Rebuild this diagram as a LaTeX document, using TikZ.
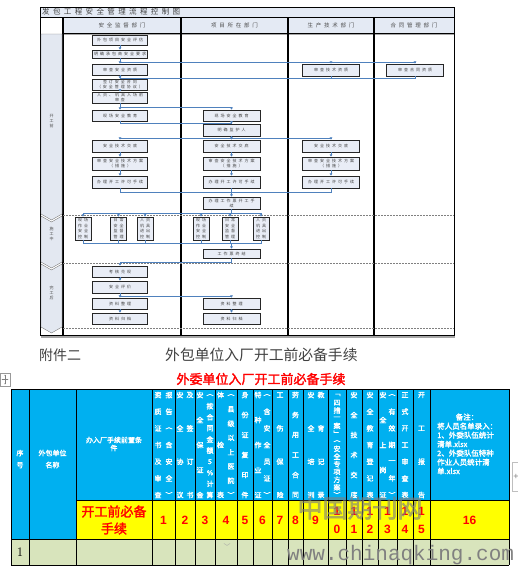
\documentclass[tikz,border=0pt]{standalone}
\usepackage{fontspec}
\usetikzlibrary{arrows.meta, positioning, calc}
\newfontfamily\cjk{Noto Sans CJK SC}[AutoFakeBold=2]
\newfontfamily\cjkspread{Noto Sans CJK SC}[LetterSpace=50]
\newfontfamily\cjktitle{Noto Sans CJK SC}[LetterSpace=45]
\newfontfamily\numfont{Liberation Sans}
\newfontfamily\webfont{Liberation Mono}
\definecolor{flowblue}{HTML}{4F81BD}
\definecolor{boxfill}{HTML}{E9EDF6}
\definecolor{headfill}{HTML}{E4EAF4}
\definecolor{lanefill}{HTML}{E3E8F1}
\definecolor{xlblue}{HTML}{00B0F0}
\definecolor{xlyellow}{HTML}{FFFF00}
\definecolor{xlgreen}{HTML}{D8E4BC}
\definecolor{xlred}{HTML}{FF0000}
\definecolor{inkgray}{HTML}{404040}
% one column of upright header characters, spread over the header cell
\newcommand{\vstackcol}[4]{%
  \foreach \ch [count=\k] in {#4}{%
    \node[htext] (#1-\k) at (#2,{395+(\k-1)*100/(#3-1)}) {\ch};}%
}

\begin{document}
\begin{tikzpicture}[x=1pt, y=-1pt,
    fbox/.style={draw=black!85, line width=0.7pt, fill=boxfill, minimum width=55pt,
      minimum height=10pt, inner sep=0.5pt, align=center, text=black!75,
      font=\cjkspread\fontsize{4}{5}\selectfont},
    fboxw/.style={fbox, minimum width=57pt},
    sbox/.style={fbox, minimum width=16pt, minimum height=23pt,
      font=\cjkspread\fontsize{4}{5.5}\selectfont},
    headtext/.style={font=\cjkspread\fontsize{5.5}{6}\selectfont, text=black!70},
    lanetext/.style={font=\cjk\fontsize{4}{5}\selectfont, align=center, text=black!70},
    arr/.style={-{Triangle[length=2.2pt,width=2.6pt]}, line width=0.9pt, flowblue},
    ln/.style={line width=0.9pt, flowblue},
    sep/.style={gray, line width=1pt, dash pattern=on 1.5pt off 1.5pt},
    tline/.style={black, line width=0.9pt},
    htext/.style={font=\cjk\bfseries\fontsize{7}{8}\selectfont, text=white, inner sep=0pt, align=center},
    numtext/.style={font=\numfont\bfseries\fontsize{12}{12}\selectfont, text=xlred, inner sep=0pt},
  ]
  \useasboundingbox (0,0) rectangle (518,566);
  \clip (0,0) rectangle (518,566);

  % ---------- flow chart frame ----------
  \fill[headfill] (40,7) rectangle (454,17);
  \fill[headfill] (63,17) rectangle (454,33);
  \draw[gray!70, line width=1.5pt] (63,34) -- (454,34);
  \draw[gray!70, line width=1.5pt] (41,337) -- (455,337);
  \draw[line width=0.9pt] (40,7) rectangle (454,335);
  \draw[line width=0.9pt] (40,17) -- (454,17);
  \draw[line width=0.9pt] (63,33) -- (454,33);
  \foreach \x in {63,181,288,374}
    \draw[line width=1.1pt] (\x,17) -- (\x,335);
  \node[anchor=west, inner sep=0, text=black!75, font=\cjktitle\fontsize{7.5}{8}\selectfont] (ftitle) at (42,12) {发包工程安全管理流程控制图};
  \node[headtext] (dep1) at (122,25) {安全监督部门};
  \node[headtext] (dep2) at (234.5,25) {项目所在部门};
  \node[headtext] (dep3) at (331,25) {生产技术部门};
  \node[headtext] (dep4) at (414,25) {合同管理部门};

  % phase lanes
  \filldraw[fill=lanefill, draw=gray] (41,34) -- (62,34) -- (62,214) -- (51.5,220) -- (41,214) -- cycle;
  \filldraw[fill=lanefill, draw=gray] (41,216) -- (51.5,222) -- (62,216) -- (62,262) -- (51.5,268) -- (41,262) -- cycle;
  \filldraw[fill=lanefill, draw=gray] (41,264) -- (51.5,270) -- (62,264) -- (62,327) -- (51.5,333) -- (41,327) -- cycle;
  \node[lanetext] (lane1) at (51.5,121) {开\\工\\前};
  \node[lanetext] (lane2) at (51.5,234) {施\\工\\中};
  \node[lanetext] (lane3) at (51.5,293) {完\\工\\后};
  \draw[sep] (63,215) -- (454,215);
  \draw[sep] (63,263) -- (454,263);
  \draw[sep] (63,328) -- (454,328);

  % ---------- flow chart boxes ----------
  \node[fbox] (assess) at (120,40) {外包项目安全评估};
  \node[fbox, minimum height=8pt] (req) at (120,54) {明确承包商安全要求};
  \node[fbox, minimum height=11pt] (qualS) at (120,69.5) {审查安全资质};
  \node[fboxw, minimum height=12pt] (qualT) at (331,70) {审查技术资质};
  \node[fboxw, minimum height=12pt] (qualC) at (415,70) {审查合同资质};
  \node[fbox, minimum height=11pt] (contract) at (120,84.5) {签订安全合同\\（安全管理协议）};
  \node[fbox, minimum height=11pt] (entry) at (120,97.5) {人员、机具入场前\\审查};
  \node[fbox, minimum height=11pt] (edu1) at (120,115.5) {现场安全教育};
  \node[fboxw, minimum height=11pt] (edu2) at (231.5,115.5) {现场安全教育};
  \node[fboxw, minimum height=12pt] (guard) at (231.5,130) {明确监护人};
  \node[fbox, minimum height=12pt] (tech1) at (120,146) {安全技术交底};
  \node[fboxw, minimum height=12pt] (tech2) at (231.5,146) {安全技术交底};
  \node[fboxw, minimum height=12pt] (tech3) at (331,146) {安全技术交底};
  \node[fbox, minimum height=13pt] (plan1) at (120,163.5) {审查安全技术方案\\（措施）};
  \node[fboxw, minimum height=13pt] (plan2) at (231.5,163.5) {审查安全技术方案\\（措施）};
  \node[fboxw, minimum height=13pt] (plan3) at (331,163.5) {审查安全技术方案\\（措施）};
  \node[fbox, minimum height=12pt] (permit1) at (120,182) {办理开工许可手续};
  \node[fboxw, minimum height=12pt] (permit2) at (231.5,182) {办理开工许可手续};
  \node[fboxw, minimum height=12pt] (permit3) at (331,182) {办理开工许可手续};
  \node[fboxw, minimum height=12pt] (ticket) at (231.5,203) {办理工作票开工手\\续};
  \node[sbox] (ctl1) at (83,228.5) {现场\\作业\\安全\\控制};
  \node[sbox] (ctl2) at (118.5,228.5) {日常\\安全\\监督\\管理};
  \node[sbox] (ctl3) at (145,228.5) {人员\\机具\\进出\\控制};
  \node[sbox] (ctl4) at (201,228.5) {现场\\作业\\安全\\控制};
  \node[sbox] (ctl5) at (230,228.5) {日常\\安全\\监督\\管理};
  \node[sbox] (ctl6) at (261,228.5) {人员\\机具\\进出\\控制};
  \node[fboxw, minimum height=9pt] (close) at (231.5,253.5) {工作票终结};
  \node[fbox, minimum height=11pt] (reward) at (120,271.5) {考核兑现};
  \node[fbox, minimum height=12pt] (review) at (120,287) {安全评价};
  \node[fbox, minimum height=11pt] (sort1) at (120,303.5) {资料整理};
  \node[fboxw, minimum height=11pt] (sort2) at (231.5,303.5) {资料整理};
  \node[fbox, minimum height=11pt] (file1) at (120,318.5) {资料归档};
  \node[fboxw, minimum height=11pt] (file2) at (231.5,318.5) {资料归档};

  % ---------- flow chart connectors ----------
  \coordinate (bus1) at (120,62);
  \coordinate (bus2) at (120,78);
  \coordinate (bus3) at (120,107);
  \coordinate (bus4) at (231.5,123);
  \coordinate (bus5) at (231.5,138);
  \coordinate (bus6) at (231.5,192);
  \coordinate (bus7) at (231.5,213);
  \coordinate (bus8) at (231.5,243);
  \coordinate (bus9) at (120,262);
  \coordinate (bus10) at (120,296);
  \draw[arr] (assess) -- (req);
  \draw[arr] (req) -- (qualS);
  \draw[arr] (bus1) -| (qualT.north);
  \draw[arr] (bus1) -| (qualC.north);
  \draw[ln] (qualT.south) |- (bus2);
  \draw[ln] (qualC.south) |- (bus2);
  \draw[arr] (qualS) -- (contract);
  \draw[arr] (contract) -- (entry);
  \draw[arr] (entry) -- (edu1);
  \draw[arr] (bus3) -| (edu2.north);
  \draw[ln] (edu1.south) |- (bus4);
  \draw[arr] (edu2) -- (guard);
  \draw[arr] (guard) -- (tech2);
  \draw[arr] (bus5) -| (tech1.north);
  \draw[arr] (bus5) -| (tech3.north);
  \foreach \c in {1,2,3} {
    \draw[arr] (tech\c) -- (plan\c);
    \draw[arr] (plan\c) -- (permit\c);
  }
  \draw[ln] (permit1.south) |- (bus6);
  \draw[ln] (permit3.south) |- (bus6);
  \draw[arr] (permit2) -- (ticket);
  \draw[ln] (ticket) -- (bus7);
  \foreach \s in {1,...,6} {
    \draw[arr] (bus7) -| (ctl\s.north);
    \draw[ln] (ctl\s.south) |- (bus8);
  }
  \draw[arr] (bus8) -- (close);
  \draw[arr] (close.south) |- (bus9) -- (reward.north);
  \draw[arr] (reward) -- (review);
  \draw[arr] (review) -- (sort1);
  \draw[arr] (bus10) -| (sort2.north);
  \draw[arr] (sort1) -- (file1);
  \draw[arr] (sort2) -- (file2);

  % ---------- caption lines ----------
  \node[anchor=west, inner sep=0, text=inkgray, font=\cjk\fontsize{14}{14}\selectfont] (cap1) at (39,355) {附件二};
  \node[anchor=west, inner sep=0, text=inkgray, font=\cjk\fontsize{14.8}{15}\selectfont] (cap2) at (165,355) {外包单位入厂开工前必备手续};
  \draw[gray!80, fill=white] (0,373) rectangle (10,386);
  \draw[gray, {Stealth[length=1.5pt]}-{Stealth[length=1.5pt]}] (1.5,379.5) -- (8.5,379.5);
  \draw[gray, {Stealth[length=1.5pt]}-{Stealth[length=1.5pt]}] (5,374.5) -- (5,384.5);
  \node[text=xlred, font=\cjk\bfseries\fontsize{13}{13}\selectfont] (ttitle) at (261,379) {外委单位入厂开工前必备手续};

  % ---------- table ----------
  \fill[xlblue] (11,389) rectangle (509,500);
  \fill[xlblue] (11,500) rectangle (76,539);
  \fill[xlyellow] (76,500) rectangle (509,539);
  \fill[xlgreen] (11,539) rectangle (509,565);
  \foreach \y in {389,539,565}
    \draw[tline] (11,\y) -- (509,\y);
  \draw[tline] (76,500) -- (509,500);
  \foreach \x in {11,29,76,152,175,195,215,237,253,272,288,303,328,346,362,378,397,413,430,509}
    \draw[tline] (\x,389) -- (\x,565);

  \node[htext, font=\cjk\bfseries\fontsize{7}{12}\selectfont] (hno) at (20,459) {序\\号};
  \node[htext, font=\cjk\bfseries\fontsize{7}{12}\selectfont] (hname) at (52.5,459) {外包单位\\名称};
  \node[htext] (hcond) at (114,444) {办入厂手续前置条\\件};
  \node[text=xlred, align=center, inner sep=0, font=\cjk\bfseries\fontsize{13}{17}\selectfont] (hmust) at (114,520) {开工前必备\\手续};

  \vstackcol{v1a}{158}{7}{资,质,证,书,及,审,查}
  \vstackcol{v1b}{169}{7}{报,告,︵,含,安,全,︶}
  \vstackcol{v2a}{180}{4}{安,全,协,议}
  \vstackcol{v2b}{190}{4}{及,签,订,书}
  \vstackcol{v3a}{200}{5}{安,全,保,证,金}
  \vstackcol{v3b}{210}{10}{︵,按,合,同,金,额,5,\%,计,算}
  \vstackcol{v4a}{220.5}{3}{体,检,表}
  \vstackcol{v4b}{231}{8}{︵,县,级,以,上,医,院,︶}
  \vstackcol{v5}{245}{6}{身,份,证,复,印,件}
  \vstackcol{v6a}{258}{5}{特,种,作,业,证}
  \vstackcol{v6b}{267}{7}{︵,含,安,全,员,证,︶}
  \vstackcol{v7}{280}{4}{工,伤,保,险}
  \vstackcol{v8}{295.5}{6}{劳,务,用,工,合,同}
  \vstackcol{v9a}{311}{4}{安,全,培,训}
  \vstackcol{v9b}{321}{4}{教,育,记,录}
  \vstackcol{v10}{337}{14}{﹁,四,措,一,案,﹂,︵,安,全,专,项,方,案,︶}
  \vstackcol{v11}{354}{6}{安,全,技,术,交,底}
  \vstackcol{v12}{370}{7}{安,全,教,育,登,记,表}
  \vstackcol{v13a}{383}{5}{安,全,上,岗,证}
  \vstackcol{v13b}{392}{7}{︵,有,效,期,一,年,︶}
  \vstackcol{v14}{405}{7}{正,式,开,工,审,查,表}
  \vstackcol{v15}{421.5}{4}{开,工,报,告}
  \node[htext, font=\cjk\bfseries\fontsize{7.5}{9}\selectfont] (rem0) at (467,417) {备注：};
  \node[htext, anchor=north west, align=left, font=\cjk\bfseries\fontsize{7.5}{9}\selectfont] (rem1) at (437,422.5) {将人员名单录入：\\1、外委队伍统计\\清单.xlsx\\2、外委队伍特种\\作业人员统计清\\单.xlsx};

  \foreach \n/\x in {1/163.5, 2/185, 3/205, 4/226, 5/245, 6/262.5, 7/280, 8/295.5, 9/315.5}
    \node[numtext] (num\n) at (\x,520) {\n};
  \foreach \n/\x in {0/337, 1/354, 2/370, 3/387.5, 4/405, 5/421.5} {
    \node[numtext] (numa\n) at (\x,511) {1};
    \node[numtext] (numb\n) at (\x,529) {\n};
  }
  \node[numtext] (num16) at (469.5,520) {16};
  \node[font=\fontsize{13}{13}\selectfont, inner sep=0] (row1) at (20,552) {1};
  \node[text=gray!70, inner sep=0, font=\cjk\fontsize{7}{7}\selectfont] (mark) at (227,547) {﹀};

  % right-hand row handle
  \draw[gray!50] (518,462) -- (512,462) -- (512,491) -- (518,491);
  \node[text=gray, inner sep=0, font=\numfont\fontsize{9}{9}\selectfont] (plus) at (516,477) {+};

  % watermark
  \node[text=gray, opacity=0.6, inner sep=0, font=\cjk\bfseries\fontsize{25}{25}\selectfont] (wm1) at (360,508) {中国期刊网};
  \node[anchor=west, inner sep=0, text=gray, font=\webfont\fontsize{21}{21}\selectfont] (wm2) at (287,555) {www.chinaqking.com};
\end{tikzpicture}
\end{document}
